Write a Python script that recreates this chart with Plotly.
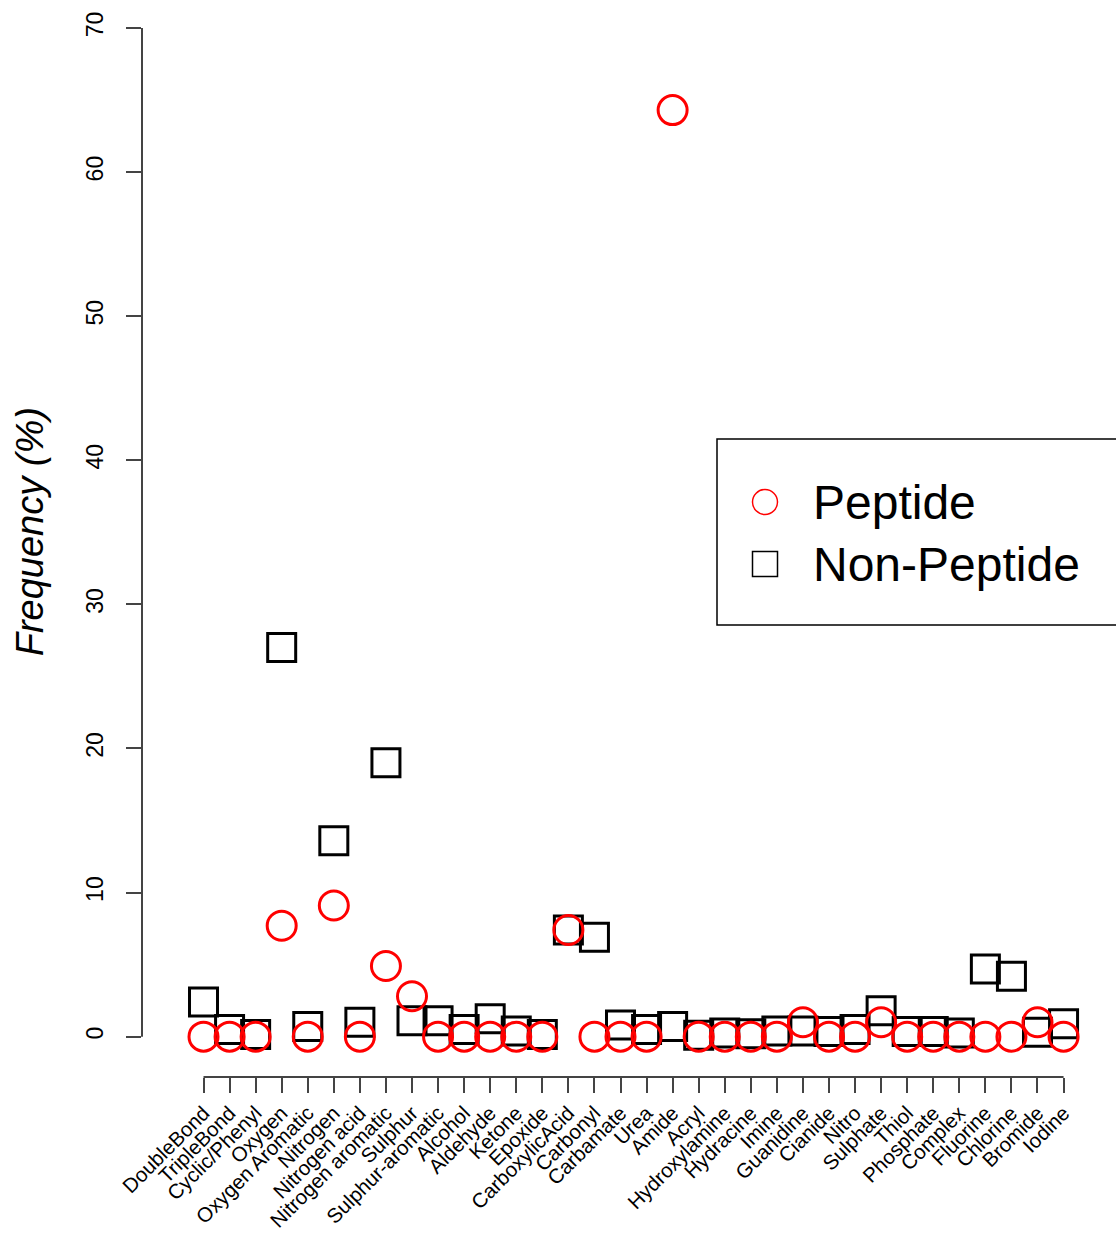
import plotly.graph_objects as go

categories = ["DoubleBond", "TripleBond", "Cyclic/Phenyl", "Oxygen", "Oxygen Aromatic",
              "Nitrogen", "Nitrogen acid", "Nitrogen aromatic", "Sulphur", "Sulphur-aromatic",
              "Alcohol", "Aldehyde", "Ketone", "Epoxide", "CarboxylicAcid", "Carbonyl",
              "Carbamate", "Urea", "Amide", "Acryl", "Hydroxylamine", "Hydracine", "Imine",
              "Guanidine", "Cianide", "Nitro", "Sulphate", "Thiol", "Phosphate", "Complex",
              "Fluorine", "Chlorine", "Bromide", "Iodine"]

peptide = [0, 0, 0, 7.7, 0, 9.1, 0, 4.9, 2.8, 0,
           0, 0, 0, 0, 7.4, 0, 0, 0, 64.3, 0,
           0, 0, 0, 1.0, 0, 0, 1.0, 0, 0, 0,
           0, 0, 1.0, 0]

non_peptide = [2.4, 0.5, 0.15, 27.0, 0.7, 13.6, 1.0, 19.0, 1.1, 1.1,
               0.5, 1.25, 0.4, 0.15, 7.4, 6.9, 0.8, 0.5, 0.7, 0.1,
               0.25, 0.2, 0.4, 0.4, 0.35, 0.5, 1.8, 0.35, 0.35, 0.25,
               4.7, 4.2, 0.3, 0.9]

series_names = ["Peptide", "Non-Peptide"]
y_ticks = [0, 10, 20, 30, 40, 50, 60, 70]

FONT = "Liberation Sans, Arial, sans-serif"
n = len(categories)

fig = go.Figure()

fig.add_trace(go.Scatter(
    x=categories, y=non_peptide, mode="markers", name=series_names[1], showlegend=False,
    marker=dict(symbol="square-open", size=28, color="black", line=dict(width=3, color="black")),
))
fig.add_trace(go.Scatter(
    x=categories, y=peptide, mode="markers", name=series_names[0], showlegend=False,
    marker=dict(symbol="circle-open", size=29, color="red", line=dict(width=3, color="red")),
))

axis_color = "#444444"

# R-style axis lines spanning only the tick range
fig.add_shape(type="line", xref="paper", yref="y", x0=0, x1=0, y0=min(y_ticks), y1=max(y_ticks),
              line=dict(color=axis_color, width=2))
fig.add_shape(type="line", xref="x", yref="paper", x0=0, x1=n - 1, y0=0, y1=0,
              line=dict(color=axis_color, width=2))

fig.add_annotation(
    text="<i>Frequency (%)</i>", xref="paper", yref="y", x=0, y=35,
    xanchor="center", yanchor="middle", xshift=-112, textangle=-90, showarrow=False,
    font=dict(family=FONT, size=38, color="black"),
)

# ---- legend (R-style box, drawn in paper coordinates) ----
L, T, B = 142, 0, 1077          # plot area pixel bounds
W = 957
def px(x):
    return (x - L) / W
def py(y):
    return (B - y) / (B - T)

fig.add_shape(type="rect", xref="paper", yref="paper",
              x0=px(717), x1=px(1140), y0=py(625), y1=py(439),
              line=dict(color="black", width=1.5), fillcolor="white", layer="above")
fig.add_shape(type="circle", xref="paper", yref="paper", xsizemode="pixel", ysizemode="pixel",
              xanchor=px(765), yanchor=py(502), x0=-12.5, x1=12.5, y0=-12.5, y1=12.5,
              line=dict(color="red", width=1.5), layer="above")
fig.add_shape(type="rect", xref="paper", yref="paper", xsizemode="pixel", ysizemode="pixel",
              xanchor=px(765), yanchor=py(564), x0=-12.5, x1=12.5, y0=-12.5, y1=12.5,
              line=dict(color="black", width=1.5), layer="above")
for name, yc in zip(series_names, [502, 564]):
    fig.add_annotation(text=name, xref="paper", yref="paper", x=px(811), y=py(yc),
                       xanchor="left", yanchor="middle", showarrow=False,
                       font=dict(family=FONT, size=48, color="black"))

fig.update_layout(
    width=1116, height=1236,
    margin=dict(l=142, r=17, t=0, b=159),
    paper_bgcolor="white", plot_bgcolor="white",
    font=dict(family=FONT, color="black"),
    showlegend=False,
    xaxis=dict(
        type="category", range=[-2.36, n - 1 + 1.36], automargin=False,
        tickmode="array", tickvals=categories, ticktext=categories,
        showgrid=False, zeroline=False, showline=False,
        ticks="outside", ticklen=15, tickwidth=2, tickcolor=axis_color,
        tickangle=-45, tickfont=dict(size=20.5, family=FONT, color="black"),
    ),
    yaxis=dict(
        range=[-2.8, 71.94], automargin=False,
        tickvals=y_ticks, ticktext=[str(v) for v in y_ticks],
        showgrid=False, zeroline=False, showline=False,
        ticks="outside", ticklen=15, tickwidth=2, tickcolor=axis_color,
        tickangle=-90, tickfont=dict(size=23, family=FONT, color="black"),
        ticklabelstandoff=14,
    ),
)

fig.write_html("out.html")
